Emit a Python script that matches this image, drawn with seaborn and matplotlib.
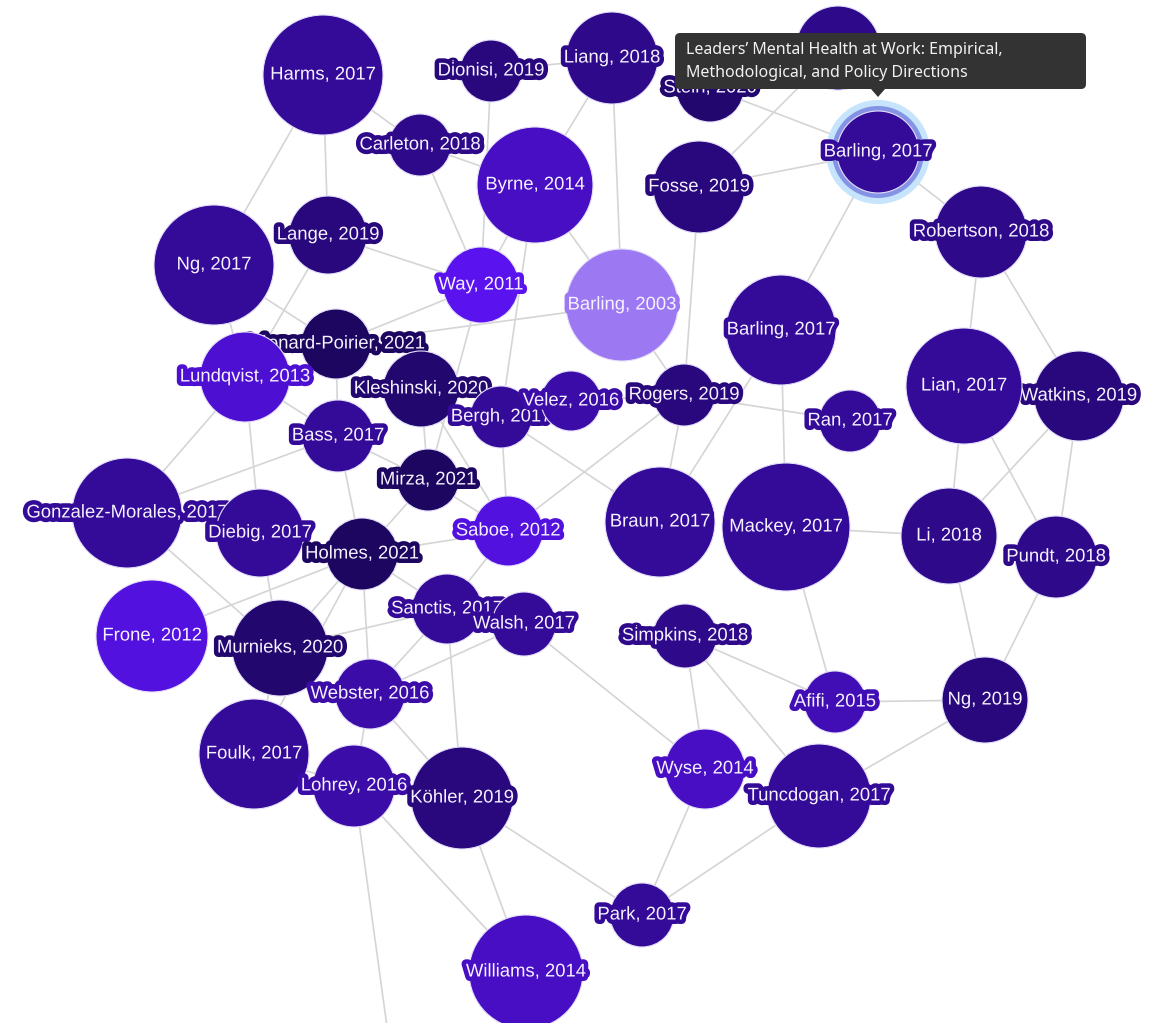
import matplotlib
matplotlib.use("Agg")
import matplotlib.pyplot as plt
import matplotlib.patheffects as pe
from matplotlib.colors import LinearSegmentedColormap, Normalize
from matplotlib.patches import Circle, FancyBboxPatch, Polygon
import seaborn as sns
import pandas as pd

# nodes of the graph (positions in screen pixels, y grows downwards)
keys = ["Harms17", "Dionisi19", "Liang18", "Hidden", "Stein20", "Carleton18", "Byrne14",
        "Fosse19", "Barling17a", "Robertson18", "Ng17", "Lange19", "Way11", "Barling03",
        "Barling17b", "Leonard21", "Lundqvist13", "Kleshinski20", "Bergh17", "Velez16",
        "Rogers19", "Bass17", "Ran17", "Watkins19", "Lian17", "Mirza21", "Gonzalez17",
        "Diebig17", "Holmes21", "Saboe12", "Braun17", "Mackey17", "Li18", "Pundt18",
        "Frone12", "Murnieks20", "Sanctis17", "Walsh17", "Simpkins18", "Webster16",
        "Afifi15", "Ng19", "Foulk17", "Lohrey16", "Koehler19", "Tuncdogan17", "Wyse14",
        "Park17", "Williams14", "Offscreen"]
labels = ["Harms, 2017", "Dionisi, 2019", "Liang, 2018", "", "Stein, 2020", "Carleton, 2018",
          "Byrne, 2014", "Fosse, 2019", "Barling, 2017", "Robertson, 2018", "Ng, 2017",
          "Lange, 2019", "Way, 2011", "Barling, 2003", "Barling, 2017",
          "Léonard-Poirier, 2021", "Lundqvist, 2013", "Kleshinski, 2020", "Bergh, 2017",
          "Velez, 2016", "Rogers, 2019", "Bass, 2017", "Ran, 2017", "Watkins, 2019",
          "Lian, 2017", "Mirza, 2021", "Gonzalez-Morales, 2017", "Diebig, 2017",
          "Holmes, 2021", "Saboe, 2012", "Braun, 2017", "Mackey, 2017", "Li, 2018",
          "Pundt, 2018", "Frone, 2012", "Murnieks, 2020", "Sanctis, 2017", "Walsh, 2017",
          "Simpkins, 2018", "Webster, 2016", "Afifi, 2015", "Ng, 2019", "Foulk, 2017",
          "Lohrey, 2016", "Köhler, 2019", "Tuncdogan, 2017", "Wyse, 2014", "Park, 2017",
          "Williams, 2014", ""]
node_x = [323, 491, 612, 838, 710, 420, 535, 699, 878, 981, 214, 328, 481, 622, 781, 336, 245,
          421, 501, 571, 684, 338, 850, 1079, 964, 428, 127, 260, 362, 508, 660, 786, 949,
          1056, 152, 280, 447, 524, 685, 370, 835, 985, 254, 354, 462, 819, 705, 642, 526, 395]
node_y = [75, 71, 58, 48, 88, 145, 185, 187, 152, 232, 265, 235, 285, 305, 330, 344, 377, 389,
          417, 401, 395, 436, 421, 396, 386, 480, 513, 533, 554, 531, 522, 527, 536, 557, 636,
          648, 609, 624, 636, 694, 702, 700, 754, 786, 798, 796, 769, 915, 972, 1085]
node_r = [60, 31, 46, 42, 34, 31, 58, 46, 41, 46, 60, 39, 38, 56, 55, 35, 45, 38, 31, 30, 31,
          36, 31, 45, 58, 31, 55, 44, 36, 35, 55, 64, 48, 41, 56, 48, 35, 32, 32, 35, 31, 43,
          55, 41, 51, 52, 40, 32, 57, 40]
years = [2017, 2019, 2018, 2018, 2020, 2018, 2014, 2019, 2017, 2018, 2017, 2019, 2011, 2003,
         2017, 2021, 2013, 2020, 2017, 2016, 2019, 2017, 2017, 2019, 2017, 2021, 2017, 2017,
         2021, 2012, 2017, 2017, 2018, 2018, 2012, 2020, 2017, 2017, 2018, 2016, 2015, 2019,
         2017, 2016, 2019, 2017, 2014, 2017, 2014, 2017]
selected = "Barling17a"

edges = [
    ("Harms17", "Ng17"), ("Harms17", "Lange19"), ("Harms17", "Carleton18"),
    ("Carleton18", "Byrne14"), ("Carleton18", "Way11"),
    ("Dionisi19", "Liang18"), ("Dionisi19", "Way11"),
    ("Liang18", "Byrne14"), ("Liang18", "Barling03"),
    ("Stein20", "Barling17a"), ("Hidden", "Fosse19"),
    ("Fosse19", "Barling17a"), ("Fosse19", "Rogers19"),
    ("Barling17a", "Barling17b"), ("Barling17a", "Robertson18"),
    ("Robertson18", "Lian17"), ("Robertson18", "Watkins19"),
    ("Byrne14", "Way11"), ("Byrne14", "Bergh17"), ("Byrne14", "Barling03"),
    ("Lange19", "Way11"), ("Lange19", "Lundqvist13"),
    ("Ng17", "Leonard21"), ("Ng17", "Lundqvist13"),
    ("Way11", "Leonard21"), ("Way11", "Mirza21"),
    ("Leonard21", "Barling03"), ("Leonard21", "Bass17"),
    ("Barling03", "Rogers19"),
    ("Barling17b", "Mackey17"), ("Barling17b", "Braun17"),
    ("Rogers19", "Ran17"), ("Rogers19", "Braun17"), ("Rogers19", "Saboe12"),
    ("Rogers19", "Velez16"),
    ("Bergh17", "Braun17"), ("Bergh17", "Saboe12"),
    ("Kleshinski20", "Mirza21"), ("Kleshinski20", "Saboe12"),
    ("Lian17", "Li18"), ("Lian17", "Pundt18"), ("Watkins19", "Li18"), ("Watkins19", "Pundt18"),
    ("Mackey17", "Li18"), ("Mackey17", "Afifi15"),
    ("Li18", "Ng19"), ("Pundt18", "Ng19"),
    ("Lundqvist13", "Gonzalez17"), ("Lundqvist13", "Diebig17"), ("Lundqvist13", "Bass17"),
    ("Gonzalez17", "Bass17"), ("Gonzalez17", "Murnieks20"),
    ("Frone12", "Holmes21"),
    ("Diebig17", "Murnieks20"), ("Diebig17", "Holmes21"),
    ("Bass17", "Holmes21"), ("Bass17", "Mirza21"),
    ("Mirza21", "Holmes21"), ("Mirza21", "Saboe12"),
    ("Holmes21", "Saboe12"), ("Holmes21", "Murnieks20"), ("Holmes21", "Webster16"),
    ("Holmes21", "Sanctis17"), ("Holmes21", "Foulk17"),
    ("Murnieks20", "Sanctis17"), ("Murnieks20", "Foulk17"),
    ("Sanctis17", "Saboe12"), ("Sanctis17", "Webster16"), ("Sanctis17", "Koehler19"),
    ("Webster16", "Walsh17"), ("Webster16", "Koehler19"), ("Webster16", "Lohrey16"),
    ("Walsh17", "Wyse14"),
    ("Simpkins18", "Wyse14"), ("Simpkins18", "Tuncdogan17"), ("Simpkins18", "Afifi15"),
    ("Afifi15", "Ng19"), ("Ng19", "Tuncdogan17"),
    ("Wyse14", "Park17"), ("Tuncdogan17", "Park17"),
    ("Koehler19", "Park17"), ("Koehler19", "Williams14"),
    ("Lohrey16", "Williams14"), ("Lohrey16", "Offscreen"),
    ("Foulk17", "Lohrey16"),
]

tooltip_lines = ["Leaders’ Mental Health at Work: Empirical,",
                 "Methodological, and Policy Directions"]

nodes = pd.DataFrame({"key": keys, "label": labels, "x": node_x, "y": node_y,
                      "r": node_r, "year": years}).set_index("key")

rows = []
for i, (a, b) in enumerate(edges):
    rows.append((i, nodes.loc[a, "x"], nodes.loc[a, "y"]))
    rows.append((i, nodes.loc[b, "x"], nodes.loc[b, "y"]))
edge_df = pd.DataFrame(rows, columns=["edge", "x", "y"])

# older papers are lighter
cmap = LinearSegmentedColormap.from_list(
    "years", [(0.0, "#9c78f3"), (0.44, "#5a12ef"), (1.0, "#1c0660")])
norm = Normalize(2003, 2021)

sns.set_theme(style="white")
plt.rcParams["font.family"] = ["Liberation Sans", "DejaVu Sans"]

fig = plt.figure(figsize=(11.53, 10.23), dpi=100)
ax = fig.add_axes([0, 0, 1, 1])

sns.lineplot(data=edge_df, x="x", y="y", units="edge", estimator=None, sort=False,
             color="#d5d5d5", linewidth=1.2, ax=ax, zorder=1)

z = 10
for key, row in nodes.iterrows():
    col = cmap(norm(row["year"]))
    if key == selected:
        ax.add_patch(Circle((row["x"], row["y"]), row["r"] + 11, fc="#c6e4fb", ec="none", zorder=z))
        ax.add_patch(Circle((row["x"], row["y"]), row["r"] + 5, fc="#8593e4", ec="none", zorder=z))
    ax.add_patch(Circle((row["x"], row["y"]), row["r"], fc=col, ec="#e4defa", lw=0.8, zorder=z + 1))
    if row["label"]:
        ax.text(row["x"], row["y"], row["label"], ha="center", va="center", fontsize=13.3,
                color="#f6f2ff", zorder=z + 2,
                path_effects=[pe.withStroke(linewidth=6.5, foreground=col)])
    z += 3

# tooltip over the selected paper
ax.add_patch(FancyBboxPatch((675, 33), 411, 56, boxstyle="round,pad=0,rounding_size=5",
                            fc="#333333", ec="none", zorder=500))
ax.add_patch(Polygon([(871, 89), (885, 89), (878, 97)], closed=True, fc="#333333",
                     ec="none", zorder=500))
for i, line in enumerate(tooltip_lines):
    ax.text(686, 50 + i * 23, line, ha="left", va="center", fontsize=11.5, color="#f2f2f2",
            family=["Noto Sans", "DejaVu Sans"], zorder=501)

ax.set_xlim(0, 1153)
ax.set_ylim(1023, 0)
ax.axis("off")
fig.savefig("out.png", dpi=100)
